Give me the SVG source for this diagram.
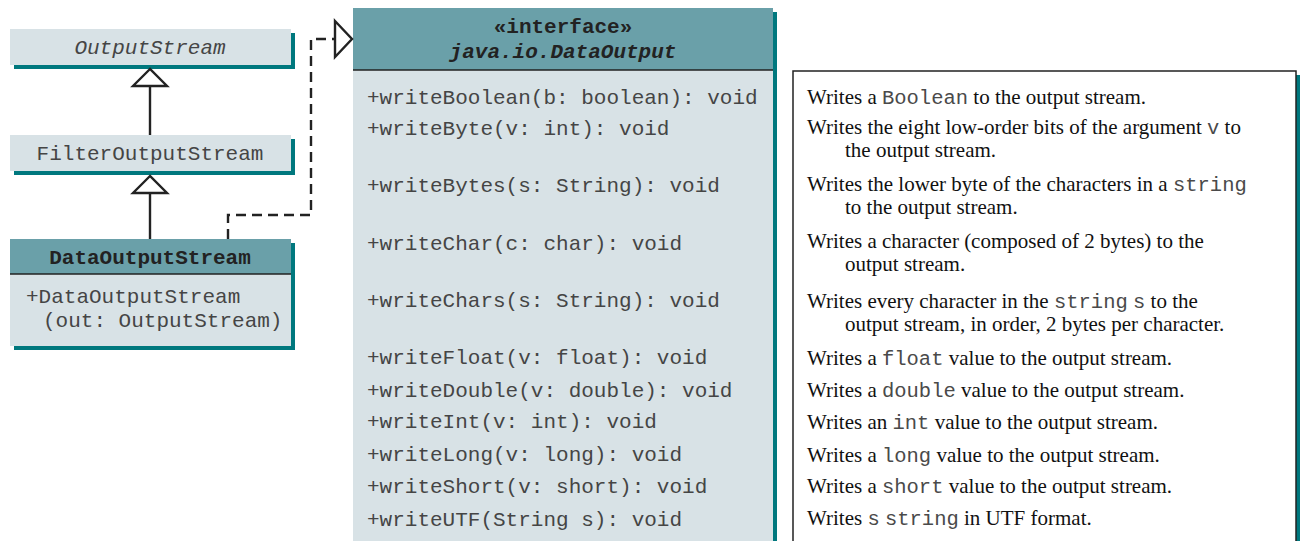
<svg xmlns="http://www.w3.org/2000/svg" width="1310" height="541" viewBox="0 0 1310 541">
<style>
.bg{fill:#ffffff}
.shadow{fill:#00787e}
.body{fill:#d8e2e6}
.head{fill:#6aa0a9}
.sep{stroke:#222;stroke-width:1.5}
.mono{font-family:"Liberation Mono","Courier New",monospace;font-size:21px;fill:#454545}
.monob{font-family:"Liberation Mono","Courier New",monospace;font-size:21px;font-weight:bold;fill:#222}
.desc{font-family:"Liberation Serif","Times New Roman",serif;font-size:21px;fill:#111}
.dm{font-family:"Liberation Mono","Courier New",monospace;font-size:20.5px;fill:#4a4a4a}
.line{stroke:#222;stroke-width:2.4;fill:none}
.dash{stroke:#222;stroke-width:2.4;fill:none;stroke-dasharray:10 6}
.tri{stroke:#222;stroke-width:2.4;fill:#ffffff}
</style>
<rect class="bg" x="0" y="0" width="1310" height="541"/>

<g id="OutputStream">
  <rect class="shadow" x="14" y="33" width="281" height="36"/>
  <rect class="body" x="10" y="29" width="281" height="36"/>
  <text class="mono" x="150" y="54" text-anchor="middle" font-style="italic">OutputStream</text>
</g>

<g id="FilterOutputStream">
  <rect class="shadow" x="14" y="139" width="281" height="36"/>
  <rect class="body" x="10" y="135" width="281" height="36"/>
  <text class="mono" x="150" y="160" text-anchor="middle">FilterOutputStream</text>
</g>

<g id="DataOutputStream">
  <rect class="shadow" x="14" y="243" width="281" height="107"/>
  <rect class="body" x="10" y="239" width="281" height="107"/>
  <rect class="head" x="10" y="239" width="281" height="35"/>
  <line class="sep" x1="10" y1="274" x2="291" y2="274"/>
  <text class="monob" x="150" y="264" text-anchor="middle">DataOutputStream</text>
  <text class="mono" x="26" y="303">+DataOutputStream</text>
  <text class="mono" x="43" y="327">(out: OutputStream)</text>
</g>

<g id="DataOutput">
  <rect class="shadow" x="357" y="12" width="420" height="540"/>
  <rect class="body" x="353" y="8" width="420" height="540"/>
  <rect class="head" x="353" y="8" width="420" height="62"/>
  <line class="sep" x1="353" y1="70" x2="773" y2="70"/>
  <text class="monob" x="563" y="33" text-anchor="middle">«interface»</text>
  <text class="monob" x="563" y="58" text-anchor="middle" font-style="italic">java.io.DataOutput</text>
  <text class="mono" x="367" y="104">+writeBoolean(b: boolean): void</text>
  <text class="mono" x="367" y="135">+writeByte(v: int): void</text>
  <text class="mono" x="367" y="192">+writeBytes(s: String): void</text>
  <text class="mono" x="367" y="250">+writeChar(c: char): void</text>
  <text class="mono" x="367" y="307">+writeChars(s: String): void</text>
  <text class="mono" x="367" y="364">+writeFloat(v: float): void</text>
  <text class="mono" x="367" y="397">+writeDouble(v: double): void</text>
  <text class="mono" x="367" y="428">+writeInt(v: int): void</text>
  <text class="mono" x="367" y="461">+writeLong(v: long): void</text>
  <text class="mono" x="367" y="493">+writeShort(v: short): void</text>
  <text class="mono" x="367" y="526">+writeUTF(String s): void</text>
</g>

<g id="descriptions">
  <rect class="shadow" x="797" y="75" width="503" height="480"/>
  <rect x="793" y="71" width="503" height="480" fill="#ffffff" stroke="#222" stroke-width="1.5"/>
  <text class="desc" x="807" y="104">Writes a <tspan class="dm">Boolean</tspan> to the output stream.</text>
  <text class="desc" x="807" y="134">Writes the eight low-order bits of the argument <tspan class="dm">v</tspan> to</text>
  <text class="desc" x="845" y="157">the output stream.</text>
  <text class="desc" x="807" y="191">Writes the lower byte of the characters in a <tspan class="dm">string</tspan></text>
  <text class="desc" x="845" y="214">to the output stream.</text>
  <text class="desc" x="807" y="248">Writes a character (composed of 2 bytes) to the</text>
  <text class="desc" x="845" y="271">output stream.</text>
  <text class="desc" x="807" y="308">Writes every character in the <tspan class="dm">string</tspan> <tspan class="dm">s</tspan> to the</text>
  <text class="desc" x="845" y="331">output stream, in order, 2 bytes per character.</text>
  <text class="desc" x="807" y="365">Writes a <tspan class="dm">float</tspan> value to the output stream.</text>
  <text class="desc" x="807" y="397">Writes a <tspan class="dm">double</tspan> value to the output stream.</text>
  <text class="desc" x="807" y="429">Writes an <tspan class="dm">int</tspan> value to the output stream.</text>
  <text class="desc" x="807" y="462">Writes a <tspan class="dm">long</tspan> value to the output stream.</text>
  <text class="desc" x="807" y="493">Writes a <tspan class="dm">short</tspan> value to the output stream.</text>
  <text class="desc" x="807" y="525">Writes <tspan class="dm">s</tspan> <tspan class="dm">string</tspan> in UTF format.</text>
</g>

<g id="connectors">
  <line class="line" x1="150" y1="135" x2="150" y2="86"/>
  <polygon class="tri" points="150,69 133,86 167,86"/>
  <line class="line" x1="150" y1="239" x2="150" y2="193"/>
  <polygon class="tri" points="150,176 133,193 167,193"/>
  <path class="dash" d="M228,239 V215 H311 V39 H335"/>
  <polygon class="tri" points="335,21 352,39 335,57"/>
</g>
</svg>
